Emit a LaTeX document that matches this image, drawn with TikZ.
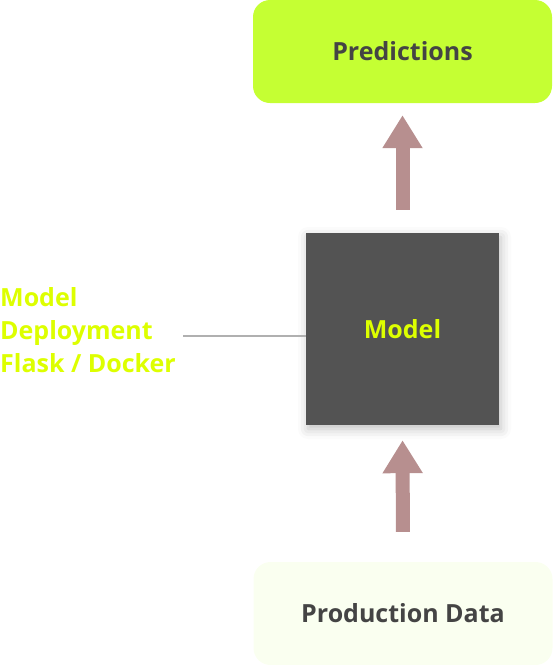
\documentclass[tikz,border=0pt]{standalone}
\usepackage{fontspec}
\setmainfont{Open Sans}
\usepackage{tikz}
\usetikzlibrary{positioning,arrows.meta,shadows.blur}
\definecolor{colorpred}  {RGB}{197,255, 51}
\definecolor{colorprod}  {RGB}{250,255,240}
\definecolor{colormodel} {RGB}{ 83, 83, 83}
\definecolor{colortext}  {RGB}{ 68, 68, 68}
\definecolor{colorlime}  {RGB}{221,255,  0}
\definecolor{colorflow}  {RGB}{183,143,143}
\definecolor{colorlink}  {RGB}{176,176,176}

\begin{document}
\begin{tikzpicture}[
    x=1pt, y=-1pt,
    font={\fontsize{25}{33}\selectfont\bfseries},
    base/.style={text=colortext,inner sep=0pt,align=center,rectangle},
    stage/.style={base,rounded corners=17pt,minimum width=299pt,minimum height=103pt},
    modelbox/.style={base,fill=colormodel,text=colorlime,minimum width=193pt,minimum height=192pt,
        blur shadow={shadow xshift=2pt,shadow yshift=-4pt,shadow blur radius=10pt,shadow opacity=25}},
    txt/.style={text=colorlime,inner sep=0pt,align=left},
    flow/.style={colorflow,line width=14pt,-{Triangle[width=38pt,length=33pt]}},
    link/.style={colorlink,line width=1.3pt},
]
    \useasboundingbox (0,0) rectangle (553,665);

    \node[stage,fill=colorpred] (predictions) at (402.5,51.5)  {Predictions};
    \node[modelbox]             (model)       at (402.5,329)   {Model};
    \node[stage,fill=colorprod] (production)  at (403,613.5)   {Production Data};

    \node[txt,anchor=west] (deploy) at (0,330) {Model\\Deployment\\Flask / Docker};

    \draw[flow,shorten <=23pt,shorten >=12pt] (model.north) -- (predictions.south);
    \draw[flow,shorten <=30pt,shorten >=15pt] (production.north) -- (model.south);

    \draw[link] ([yshift=-7pt]model.west) -- ([yshift=-7pt,xshift=7pt]model.west -| deploy.east);

\end{tikzpicture}
\end{document}
